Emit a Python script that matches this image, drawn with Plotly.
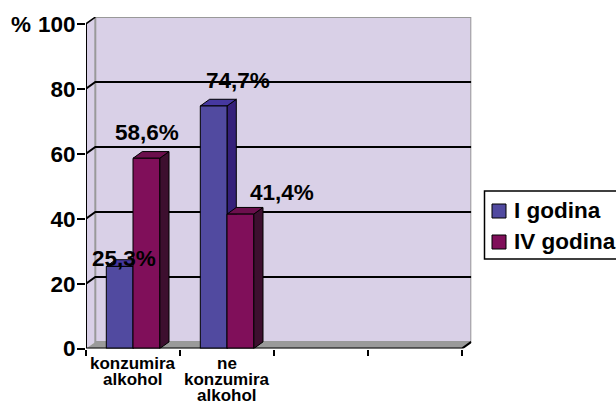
import plotly.graph_objects as go

# ---------------- data ----------------
categories = [["konzumira", "alkohol"], ["ne", "konzumira", "alkohol"]]
n_slots = 4
series_names = ["I godina", "IV godina"]
values_I = [25.3, 74.7]
values_IV = [58.6, 41.4]
y_ticks = [0, 20, 40, 60, 80, 100]

# ---------------- style ----------------
W, H = 616, 406
FONT = "Liberation Sans, Arial, sans-serif"
BIG = 22.5
wall = "#D9D0E7"
wall_border = "#999999"
floor = "#9A9A9A"
face = {"I godina": ("#514AA0", "#35207A", "#4638A0"),
        "IV godina": ("#800F5A", "#3D0F2F", "#6C0F4D")}
# 3D depth in data units
DX, DY = 0.099, 2.06
BW = 0.284
# label shifts in px (x, y) per series/category
label_shift = {"I godina": [(4, 8), (24, 25)], "IV godina": [(1, 26), (42, 22)]}

X0px, X1px, YTpx, YBpx = 86, 471.3, 17.1, 348.6

fig = go.Figure()

series = [("I godina", values_I, -BW), ("IV godina", values_IV, 0.0)]

for name, vals, off in series:
    front_c, side_c, top_c = face[name]
    sx, sy, tx, ty, fx, fy = [], [], [], [], [], []
    for i, v in enumerate(vals):
        x0 = i + off
        x1 = x0 + BW
        sx += [x1, x1 + DX, x1 + DX, x1, x1, None]
        sy += [0, DY, v + DY, v, 0, None]
        tx += [x0, x1, x1 + DX, x0 + DX, x0, None]
        ty += [v, v, v + DY, v + DY, v, None]
        fx += [x0, x1, x1, x0, x0, None]
        fy += [0, 0, v, v, 0, None]
    for xs, ys, col in [(sx, sy, side_c), (tx, ty, top_c), (fx, fy, front_c)]:
        fig.add_trace(go.Scatter(x=xs, y=ys, mode="lines", fill="toself",
                                 fillcolor=col, line=dict(color="black", width=1),
                                 hoverinfo="skip", showlegend=False))

# ---------------- walls / grid ----------------
L, R = -0.5, n_slots - 0.5
shapes = []
shapes.append(dict(type="path", xref="x", yref="y", layer="below",
                   path=f"M {L},0 L {L+DX},{DY} L {L+DX},{100+DY} L {L},100 Z",
                   fillcolor=wall, line=dict(width=0)))
shapes.append(dict(type="rect", xref="x", yref="y", layer="below",
                   x0=L + DX, x1=R + DX, y0=DY, y1=100 + DY,
                   fillcolor=wall, line=dict(color=wall_border, width=2)))
shapes.append(dict(type="path", xref="x", yref="y", layer="below",
                   path=f"M {L},0 L {R},0 L {R+DX},{DY} L {L+DX},{DY} Z",
                   fillcolor=floor, line=dict(width=0)))
for v in y_ticks[1:-1]:
    shapes.append(dict(type="path", xref="x", yref="y", layer="below",
                       path=f"M {L},{v} L {L+DX},{v+DY} L {R+DX},{v+DY}",
                       line=dict(color="black", width=2)))
shapes.append(dict(type="path", xref="x", yref="y", layer="below",
                   path=f"M {L},100 L {L+DX},{100+DY}",
                   line=dict(color="black", width=1.5)))
shapes.append(dict(type="path", xref="x", yref="y", layer="above",
                   path=f"M {L},100 L {L},0 L {R},0 L {R+DX},{DY}",
                   line=dict(color="black", width=2)))

# ---------------- legend (manual) ----------------
def px(x):
    return x / W

def py(y):
    return 1 - y / H

shapes.append(dict(type="rect", xref="paper", yref="paper",
                   x0=px(484.5), x1=px(630), y0=py(259), y1=py(191),
                   line=dict(color="black", width=1.5), fillcolor="white"))
leg_rows = [(204, 218), (235, 249)]
annotations = []
for (name, _, _), (t, b) in zip(series, leg_rows):
    shapes.append(dict(type="rect", xref="paper", yref="paper",
                       x0=px(492), x1=px(506), y0=py(b), y1=py(t),
                       fillcolor=face[name][0], line=dict(color="black", width=1)))
    annotations.append(dict(xref="paper", yref="paper", x=px(512), y=py((t + b) / 2 - 1),
                            xanchor="left", yanchor="middle", showarrow=False,
                            text=name, font=dict(family=FONT, size=BIG, color="black", weight="bold")))

# ---------------- data labels ----------------
for name, vals, off in series:
    for i, v in enumerate(vals):
        xs, ys = label_shift[name][i]
        annotations.append(dict(x=i + off + BW / 2, y=v, xref="x", yref="y",
                                xshift=xs, yshift=ys, showarrow=False,
                                xanchor="center", yanchor="middle",
                                text=f"{v:.1f}".replace(".", ",") + "%",
                                font=dict(family=FONT, size=BIG, color="black", weight="bold")))

# ---------------- category labels ----------------
line_y = [363, 379, 395]
for i, lines in enumerate(categories):
    for j, t in enumerate(lines):
        annotations.append(dict(x=i, y=py(line_y[j]), xref="x", yref="paper",
                                showarrow=False, xanchor="center", yanchor="middle",
                                text=t, font=dict(family=FONT, size=17, color="black", weight="bold")))

# axis title "%"
annotations.append(dict(xref="paper", yref="paper", x=px(21), y=py(25),
                        xanchor="center", yanchor="middle", showarrow=False, text="%",
                        font=dict(family=FONT, size=BIG, color="black", weight="bold")))

fig.update_layout(
    width=W, height=H,
    margin=dict(l=0, r=0, t=0, b=0, autoexpand=False),
    paper_bgcolor="white", plot_bgcolor="white",
    showlegend=False,
    shapes=shapes, annotations=annotations,
    xaxis=dict(domain=[px(X0px), px(X1px)], range=[L, R + DX],
               tickvals=[k - 0.5 for k in range(n_slots + 1)],
               ticks="outside", ticklen=6, tickwidth=2, tickcolor="black",
               showticklabels=False, showgrid=False, zeroline=False, showline=False),
    yaxis=dict(domain=[py(YBpx), py(YTpx)], range=[0, 100 + DY],
               tickvals=y_ticks, ticks="outside", ticklen=8, tickwidth=2, tickcolor="black",
               ticklabelstandoff=-3,
               tickfont=dict(family=FONT, size=BIG, color="black", weight="bold"),
               showgrid=False, zeroline=False, showline=False),
)

fig.write_html("out.html", config={"displayModeBar": False},
               post_script="document.body.style.margin='0';document.body.style.overflow='hidden';")
